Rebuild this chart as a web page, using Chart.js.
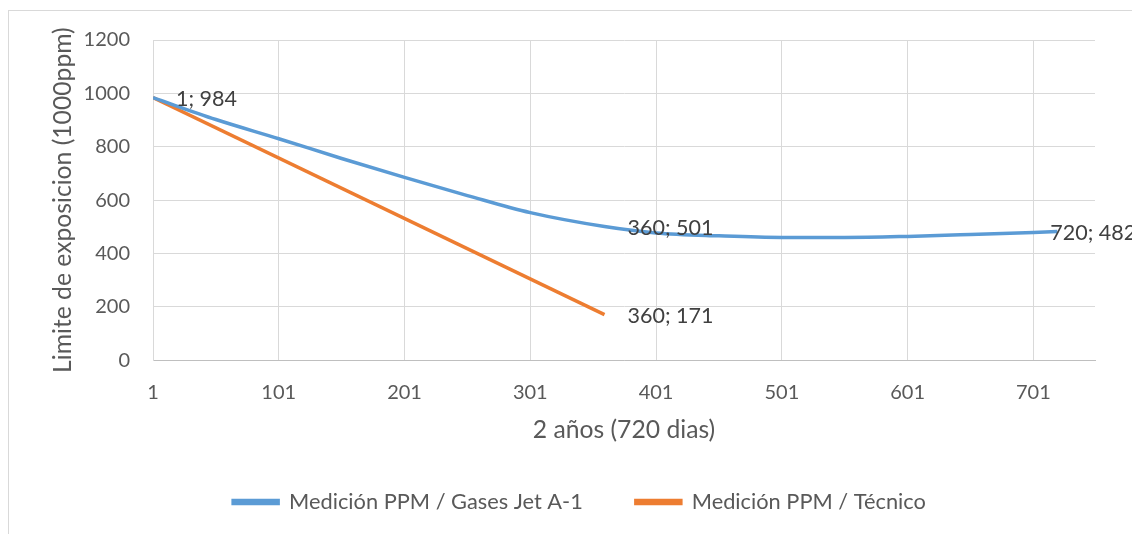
<!DOCTYPE html>
<html>
<head>
<meta charset="utf-8">
<script src="https://cdn.jsdelivr.net/npm/chart.js@4/dist/chart.umd.min.js"></script>
<style>
  html, body { margin: 0; padding: 0; background: #fff; }
  #wrap { position: relative; width: 1132px; height: 534px; }
</style>
</head>
<body>
<div id="wrap"><canvas id="grafico"></canvas></div>
<script>
/* datos */
const dias = [1, 51, 101, 151, 201, 251, 301, 360, 401, 451, 501, 551, 601, 651, 701, 720];
const gasesJet = [984, 902, 830, 756, 685, 617, 553, 501, 477, 466, 460, 460, 464, 471, 479, 482];
const diasTecnico = [1, 360];
const tecnico = [984, 171];
const xTicks = [1, 101, 201, 301, 401, 501, 601, 701];
const yTicks = [0, 200, 400, 600, 800, 1000, 1200];

const FONT = "Lato";
const GRIS = "#595959";

/* etiquetas de datos: serie, indice, desplazamiento */
const etiquetas = [
  { ds: 0, i: 0, dx: 23, dy: 1 },
  { ds: 0, i: 7, dx: 23, dy: 2 },
  { ds: 1, i: 1, dx: 23, dy: 1 },
  { ds: 0, i: 15, dx: -7, dy: 1 },
];

const marco = {
  id: "marco",
  beforeDraw(chart) {
    const ctx = chart.ctx;
    ctx.save();
    ctx.strokeStyle = "#d9d9d9";
    ctx.lineWidth = 1;
    ctx.strokeRect(8.5, 10.5, 1200, 600);
    ctx.restore();
  },
};

const etiquetasDatos = {
  id: "etiquetasDatos",
  afterDatasetsDraw(chart) {
    const ctx = chart.ctx;
    ctx.save();
    ctx.font = "21.5px " + FONT;
    ctx.fillStyle = "#404040";
    ctx.textAlign = "left";
    ctx.textBaseline = "middle";
    etiquetas.forEach((e) => {
      const pt = chart.getDatasetMeta(e.ds).data[e.i];
      const raw = chart.data.datasets[e.ds].data[e.i];
      ctx.fillText(raw.x + "; " + raw.y, pt.x + e.dx, pt.y + e.dy);
    });
    ctx.restore();
  },
};

new Chart(document.getElementById("grafico"), {
  type: "line",
  data: {
    datasets: [
      {
        label: "Medición PPM / Gases Jet A-1",
        data: dias.map((d, i) => ({ x: d, y: gasesJet[i] })),
        borderColor: "#5b9bd5",
        backgroundColor: "#5b9bd5",
        borderWidth: 3.5,
        pointRadius: 0,
        cubicInterpolationMode: "monotone",
      },
      {
        label: "Medición PPM / Técnico",
        data: diasTecnico.map((d, i) => ({ x: d, y: tecnico[i] })),
        borderColor: "#ed7d31",
        backgroundColor: "#ed7d31",
        borderWidth: 3.5,
        pointRadius: 0,
      },
    ],
  },
  options: {
    responsive: true,
    maintainAspectRatio: false,
    animation: false,
    layout: { padding: { top: 40, right: 37, left: 64, bottom: 11 } },
    plugins: {
      tooltip: { enabled: false },
      legend: {
        position: "bottom",
        labels: {
          font: { family: FONT, size: 21.8 },
          color: GRIS,
          boxWidth: 45,
          boxHeight: 3,
          padding: 53,
        },
      },
    },
    scales: {
      x: {
        type: "linear",
        min: 1,
        max: 750,
        afterBuildTicks: (s) => { s.ticks = xTicks.map((v) => ({ value: v })); },
        afterFit: (s) => { s.height = 78; },
        grid: { color: "#d9d9d9", drawTicks: false },
        border: { color: "#bfbfbf" },
        ticks: { font: { family: FONT, size: 20 }, color: GRIS, padding: 20, maxRotation: 0 },
        title: {
          display: true,
          text: "2 años (720 dias)",
          font: { family: FONT, size: 24.7 },
          color: GRIS,
          padding: { top: 0, bottom: -7 },
        },
      },
      y: {
        min: 0,
        max: 1200,
        afterBuildTicks: (s) => { s.ticks = yTicks.map((v) => ({ value: v })); },
        afterFit: (s) => { s.width = 89; },
        grid: { color: "#d9d9d9", drawTicks: false },
        border: { color: "#d9d9d9" },
        ticks: {
          font: { family: FONT, size: 20 },
          color: GRIS,
          padding: 23,
          callback: (v) => String(v),
        },
        title: {
          display: true,
          text: "Limite de exposicion (1000ppm)",
          font: { family: FONT, size: 24.7 },
          color: GRIS,
          padding: { top: -16, bottom: 0 },
        },
      },
    },
  },
  plugins: [marco, etiquetasDatos],
});
</script>
</body>
</html>
